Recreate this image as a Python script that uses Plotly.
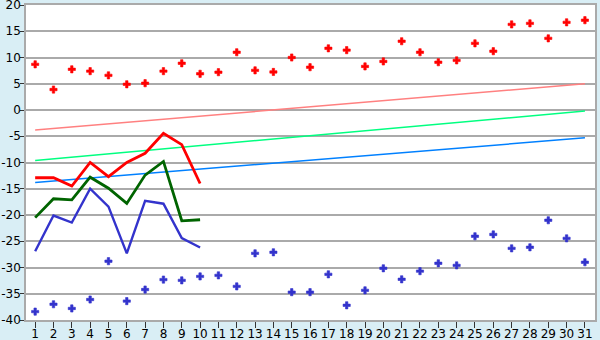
import plotly.graph_objects as go

days = list(range(1, 32))
line_days = list(range(1, 11))

max_temp = [8.7, 3.9, 7.75, 7.4, 6.6, 4.9, 5.1, 7.4, 8.9, 6.9,
            7.2, 11.0, 7.55, 7.25, 10.0, 8.15, 11.75, 11.4, 8.3, 9.25,
            13.1, 11.0, 9.1, 9.45, 12.7, 11.2, 16.3, 16.5, 13.65, 16.7, 17.1]
min_temp = [-38.4, -37.0, -37.8, -36.1, -28.8, -36.4, -34.2, -32.3, -32.45, -31.7,
            -31.5, -33.6, -27.3, -27.1, -34.7, -34.7, -31.3, -37.2, -34.35, -30.15,
            -32.25, -30.7, -29.2, -29.6, -24.05, -23.7, -26.35, -26.15, -21.0, -24.45, -29.0]

line_red = [-12.9, -12.9, -14.5, -10.0, -12.7, -10.0, -8.25, -4.45, -6.6, -14.0]
line_green = [-20.5, -16.9, -17.1, -12.8, -14.9, -17.8, -12.4, -9.8, -21.1, -20.9]
line_blue = [-26.9, -20.1, -21.45, -15.0, -18.4, -27.3, -17.3, -17.85, -24.4, -26.2]

trend_x = [1, 31]
trend_pink = [-3.8, 5.0]
trend_green = [-9.6, -0.2]
trend_blue = [-13.8, -5.3]

y_ticks = list(range(-40, 25, 5))
y_labels = [str(v) for v in y_ticks]

fig = go.Figure()
fig.add_trace(go.Scatter(x=trend_x, y=trend_pink, mode="lines", line=dict(color="#ff8080", width=1.5)))
fig.add_trace(go.Scatter(x=trend_x, y=trend_green, mode="lines", line=dict(color="#00ff80", width=1.5)))
fig.add_trace(go.Scatter(x=trend_x, y=trend_blue, mode="lines", line=dict(color="#0080ff", width=1.5)))
fig.add_trace(go.Scatter(x=line_days, y=line_red, mode="lines", line=dict(color="#ff0000", width=2.8)))
fig.add_trace(go.Scatter(x=line_days, y=line_green, mode="lines", line=dict(color="#006400", width=2.8)))
fig.add_trace(go.Scatter(x=line_days, y=line_blue, mode="lines", line=dict(color="#3333cc", width=2.4)))
fig.add_trace(go.Scatter(x=days, y=max_temp, mode="markers",
                         marker=dict(symbol="cross", size=6, color="#ff0000",
                                     line=dict(width=0.6, color="#ff0000"))))
fig.add_trace(go.Scatter(x=days, y=min_temp, mode="markers",
                         marker=dict(symbol="cross", size=6, color="#3333cc",
                                     line=dict(width=0.6, color="#3333cc"))))

fig.update_layout(
    width=600, height=340,
    margin=dict(l=26, r=5, t=5, b=20),
    paper_bgcolor="#d9eef5",
    plot_bgcolor="#ffffff",
    showlegend=False,
    font=dict(family="DejaVu Sans", size=12, color="#000000"),
    xaxis=dict(range=[0.5, 31.55], tickvals=days, ticktext=[str(d) for d in days],
               showgrid=False, zeroline=False, showline=True, linecolor="#aaaaaa", linewidth=1.5,
               mirror=True, ticks="outside", ticklen=6, tickcolor="#333333", tickwidth=1,
               tickfont=dict(size=12), automargin=False, ticklabeloverflow="allow",
               ticklabelstandoff=-4),
    yaxis=dict(range=[-40, 20], tickvals=y_ticks, ticktext=y_labels,
               showgrid=True, gridcolor="#aaaaaa", gridwidth=1.5, zeroline=False,
               showline=True, linecolor="#aaaaaa", linewidth=1.5, mirror=True,
               ticks="outside", ticklen=4, tickcolor="#333333", tickwidth=1,
               tickfont=dict(size=12), automargin=False, ticklabeloverflow="allow",
               ticklabelstandoff=-3),
)

fig.write_html("out.html")
